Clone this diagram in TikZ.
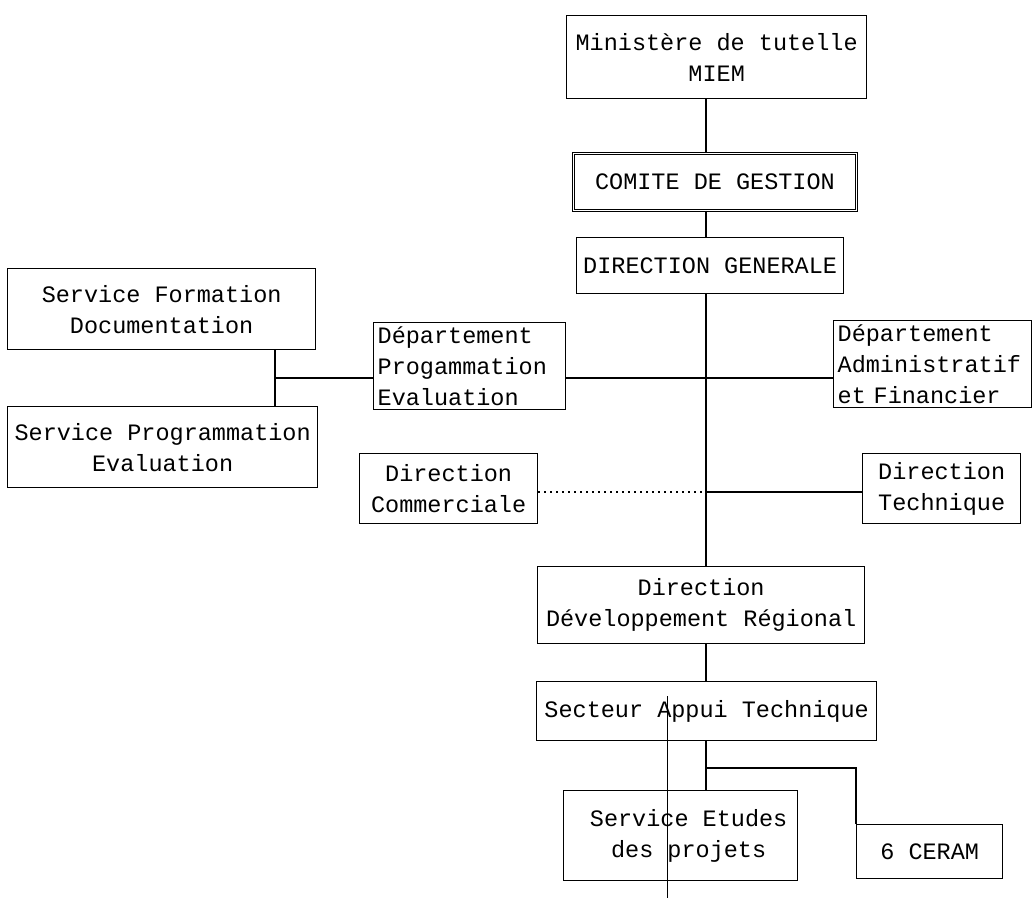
\documentclass[tikz,border=0pt]{standalone}
\usepackage{fontspec}
\newfontfamily\typewriter{Liberation Mono}
\begin{document}
\begin{tikzpicture}[x=1pt,y=-1pt,
  box/.style={draw, line width=1.3pt, anchor=north west, inner sep=4pt,
    font=\typewriter\fontsize{23.5}{31}\selectfont},
  link/.style={line width=1.3pt},
  dotlink/.style={line width=1.3pt, dash pattern=on 2pt off 4pt}]
\useasboundingbox (0,0) rectangle (1033,898);

% reference lines: main spine and the two side rows
\coordinate (spine) at (706,0);
\coordinate (deptrow) at (0,378);
\coordinate (dirrow) at (0,492);
\coordinate (ceramrow) at (0,768);

% top of the hierarchy
\node[box, minimum width=300, minimum height=83, align=center] (min) at (566,15) {Ministère de tutelle\\MIEM};
\node[box, minimum width=283, minimum height=57, align=center, double, double distance=1.5pt, line width=0.9pt] (com) at (573,153) {COMITE DE GESTION};
\node[box, minimum width=267, minimum height=56, align=center] (dg) at (576,237) {DIRECTION GENERALE};

% departments
\node[box, minimum width=192, minimum height=82, text width=184, align=left] (dp) at (373,322) {Département\\Progammation\\Evaluation};
\node[box, minimum width=198, minimum height=84, text width=190, align=left] (da) at (833,320) {Département\\Administratif\\et Financier};

% services on the left
\node[box, minimum width=308, minimum height=81, align=center] (sf) at (7,268) {Service Formation\\Documentation};
\node[box, minimum width=310, minimum height=81, align=center] (sp) at (7,406) {Service Programmation\\Evaluation};

% directions
\node[box, minimum width=178, minimum height=70, align=center] (dc) at (359,453) {Direction\\Commerciale};
\node[box, minimum width=158, minimum height=70, align=center] (dt) at (862,453) {Direction\\Technique};
\node[box, minimum width=327, minimum height=77, align=center] (ddr) at (537,566) {Direction\\Développement Régional};
\node[box, minimum width=340, minimum height=59, align=center] (sat) at (536,681) {Secteur Appui Technique};

% bottom level
\node[box, minimum width=234, minimum height=90, align=center] (se) at (563,790) {\hspace*{16pt}Service Etudes\\\hspace*{16pt}des projets};
\node[box, minimum width=146, minimum height=54, align=center] (ceram) at (856,824) {6 CERAM};

% connectors along the spine
\draw[link] (min.south -| spine) -- (com.north -| spine);
\draw[link] (com.south -| spine) -- (dg.north -| spine);
\draw[link] (dg.south -| spine) -- (ddr.north -| spine);
\draw[link] (ddr.south -| spine) -- (sat.north -| spine);
\draw[link] (sat.south -| spine) -- (se.north -| spine);
\draw[link] (sat.south -| spine) |- (ceramrow -| ceram.north west) -- (ceram.north west);

% department row
\draw[link] (dp.east |- deptrow) -- (da.west |- deptrow);
\coordinate (svc) at (275,378);
\draw[link] (sf.south -| svc) -- (sp.north -| svc);
\draw[link] (svc) -- (dp.west |- deptrow);

% direction row
\draw[dotlink] (dc.east |- dirrow) -- (dirrow -| spine);
\draw[link] (dirrow -| spine) -- (dt.west |- dirrow);

% fold mark crossing the lower part of the sheet
\draw[line width=1pt] (667,696) -- (667,898);
\end{tikzpicture}
\end{document}
